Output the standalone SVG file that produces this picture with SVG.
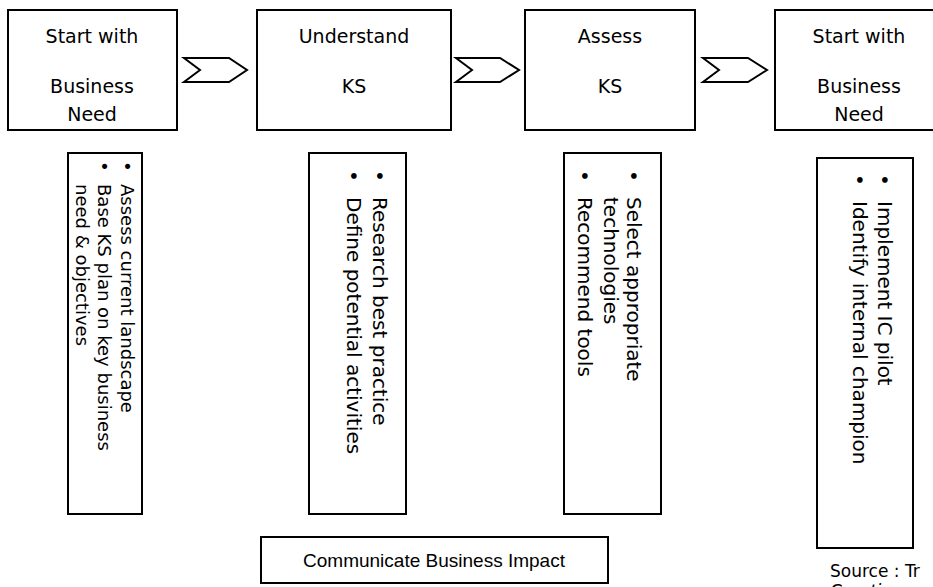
<svg xmlns="http://www.w3.org/2000/svg" width="933" height="587" viewBox="0 0 933 587">
<style>
.box{fill:#fff;stroke:#000;stroke-width:2}
.chev{fill:#fff;stroke:#000;stroke-width:2;stroke-linejoin:miter}
.t{font-family:"DejaVu Sans","Liberation Sans",sans-serif;font-size:19px;fill:#000}
.c{text-anchor:middle}
.v{font-family:"DejaVu Sans","Liberation Sans",sans-serif;font-size:18px;fill:#000}
.w{font-family:"DejaVu Sans","Liberation Sans",sans-serif;font-size:20px;fill:#000}
.big{font-family:"Liberation Sans","DejaVu Sans",sans-serif;font-size:19px;fill:#000}
.src{font-family:"DejaVu Sans","Liberation Sans",sans-serif;font-size:17px;fill:#000}
</style>
<rect width="933" height="587" fill="#fff"/>
<g id="step1">
<rect class="box" x="8" y="10" width="169" height="120"/>
<text class="t c" x="92" y="43">Start with</text>
<text class="t c" x="92" y="93">Business</text>
<text class="t c" x="92" y="121">Need</text>
</g>
<g id="step2">
<rect class="box" x="257" y="10" width="194" height="120"/>
<text class="t c" x="354" y="43">Understand</text>
<text class="t c" x="354" y="93">KS</text>
</g>
<g id="step3">
<rect class="box" x="525" y="10" width="170" height="120"/>
<text class="t c" x="610" y="43">Assess</text>
<text class="t c" x="610" y="93">KS</text>
</g>
<g id="step4">
<rect class="box" x="775" y="10" width="170" height="120"/>
<text class="t c" x="859" y="43">Start with</text>
<text class="t c" x="859" y="93">Business</text>
<text class="t c" x="859" y="121">Need</text>
</g>
<g id="connectors">
<polygon class="chev" points="184,58 229,58 247,70 229,82 184,82 200,70"/>
<polygon class="chev" points="456,58 500,58 519,70 500,82 456,82 472,70"/>
<polygon class="chev" points="703,58 748,58 767,70 748,82 703,82 719,70"/>
</g>
<g id="detail1">
<rect class="box" x="68" y="153" width="74" height="361"/>
<g transform="translate(142,153) rotate(90)">
<text class="v" x="8" y="21">•</text><text class="v" x="31" y="21">Assess current landscape</text>
<text class="v" x="8" y="44">•</text><text class="v" x="31" y="44">Base KS plan on key business</text>
<text class="v" x="31" y="66">need &amp; objectives</text>
</g>
</g>
<g id="detail2">
<rect class="box" x="309" y="153" width="97" height="361"/>
<g transform="translate(406,153) rotate(90)">
<text class="w" x="17" y="33">•</text><text class="w" x="44" y="33">Research best practice</text>
<text class="w" x="17" y="59">•</text><text class="w" x="44" y="59">Define potential activities</text>
</g>
</g>
<g id="detail3">
<rect class="box" x="564" y="153" width="97" height="361"/>
<g transform="translate(661,153) rotate(90)">
<text class="w" x="17" y="34">•</text><text class="w" x="44" y="34">Select appropriate</text>
<text class="w" x="44" y="57">technologies</text>
<text class="w" x="17" y="83">•</text><text class="w" x="44" y="83">Recommend tools</text>
</g>
</g>
<g id="detail4">
<rect class="box" x="817" y="158" width="96" height="390"/>
<g transform="translate(913,158) rotate(90)">
<text class="w" x="16" y="35">•</text><text class="w" x="43" y="35">Implement IC pilot</text>
<text class="w" x="16" y="60">•</text><text class="w" x="43" y="60">Identify internal champion</text>
</g>
</g>
<g id="impact">
<rect class="box" x="261" y="537" width="347" height="46"/>
<text class="big c" x="434" y="567">Communicate Business Impact</text>
</g>
<g id="source">
<text class="src" x="830" y="577">Source : Tr</text>
<text class="src" x="830" y="597" font-style="italic">Creating a</text>
</g>
</svg>
